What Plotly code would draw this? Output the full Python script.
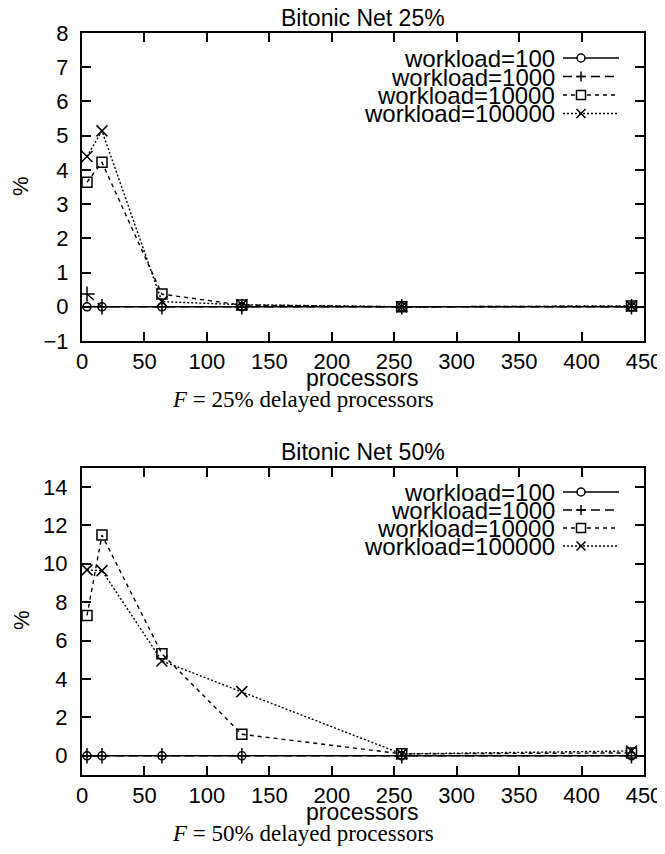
import plotly.graph_objects as go

# ---------------- data ----------------
processors = [4, 16, 64, 128, 256, 440]
series_names = ["workload=100", "workload=1000", "workload=10000", "workload=100000"]

# F = 25% delayed processors
w100_25 = [0, 0, 0, 0, 0, 0]
w1000_25 = [0.37, 0, 0, 0, 0, 0]
w10000_25 = [3.64, 4.22, 0.37, 0.05, 0.0, 0.02]
w100000_25 = [4.39, 5.14, 0.15, 0.06, 0.0, 0.02]

# F = 50% delayed processors
w100_50 = [0, 0, 0, 0, 0, 0]
w1000_50 = [0, 0, 0, 0, 0, 0]
w10000_50 = [7.31, 11.49, 5.31, 1.12, 0.1, 0.15]
w100000_50 = [9.68, 9.64, 4.94, 3.34, 0.1, 0.25]

x_ticks = [0, 50, 100, 150, 200, 250, 300, 350, 400, 450]
y_ticks_25 = [-1, 0, 1, 2, 3, 4, 5, 6, 7, 8]
y_ticks_50 = [0, 2, 4, 6, 8, 10, 12, 14]

titles = ["Bitonic Net 25%", "Bitonic Net 50%"]
captions = ["<i>F</i> = 25% delayed processors", "<i>F</i> = 50% delayed processors"]

# ---------------- styling ----------------
OFF = 8                 # page body margin
W, H = 665 - OFF, 854 - 2 * OFF
SANS = "Liberation Sans"
SERIF = "Liberation Serif"
styles = [
    dict(dash="solid", symbol="circle-open", size=8),
    dict(dash="9px,5px", symbol="cross-thin-open", size=11),
    dict(dash="4px,4px", symbol="square-open", size=10),
    dict(dash="2px,2px", symbol="x-thin-open", size=11),
]


def px(x):
    return (x - OFF) / W


def py(y):
    return 1 - (y - OFF) / H


fig = go.Figure()

panels = [
    dict(xa="x", ya="y", data=[w100_25, w1000_25, w10000_25, w100000_25]),
    dict(xa="x2", ya="y2", data=[w100_50, w1000_50, w10000_50, w100000_50]),
]
for p in panels:
    for name, vals, st in zip(series_names, p["data"], styles):
        fig.add_trace(go.Scatter(
            x=processors, y=vals, name=name, mode="lines+markers",
            xaxis=p["xa"], yaxis=p["ya"], showlegend=False,
            line=dict(color="black", width=1.4, dash=st["dash"]),
            marker=dict(symbol=st["symbol"], size=st["size"], color="black",
                        line=dict(color="black", width=1.5)),
        ))

# hand-drawn gnuplot-style key (text left, sample right)
shapes = []
legend_rows = [[58, 76.5, 95, 113.5], [492, 510, 528, 546]]
sx0, sxm, sx1 = 563, 581, 619
for rows in legend_rows:
    for i, (name, yy, st) in enumerate(zip(series_names, rows, styles)):
        line = dict(color="black", width=1.4, dash=st["dash"])
        shapes.append(dict(type="line", xref="paper", yref="paper",
                           x0=px(sx0), x1=px(sx1), y0=py(yy), y1=py(yy), line=line))
        mline = dict(color="black", width=1.5)
        if i == 0:
            r = 4
            shapes.append(dict(type="circle", xref="paper", yref="paper",
                               x0=px(sxm - r), x1=px(sxm + r), y0=py(yy - r), y1=py(yy + r),
                               line=mline, fillcolor="white"))
        elif i == 1:
            r = 5
            path = (f"M {px(sxm - r)} {py(yy)} L {px(sxm + r)} {py(yy)} "
                    f"M {px(sxm)} {py(yy - r)} L {px(sxm)} {py(yy + r)}")
            shapes.append(dict(type="path", xref="paper", yref="paper", path=path, line=mline))
        elif i == 2:
            r = 4.5
            shapes.append(dict(type="rect", xref="paper", yref="paper",
                               x0=px(sxm - r), x1=px(sxm + r), y0=py(yy - r), y1=py(yy + r),
                               line=mline, fillcolor="white"))
        else:
            r = 4.5
            path = (f"M {px(sxm - r)} {py(yy - r)} L {px(sxm + r)} {py(yy + r)} "
                    f"M {px(sxm - r)} {py(yy + r)} L {px(sxm + r)} {py(yy - r)}")
            shapes.append(dict(type="path", xref="paper", yref="paper", path=path, line=mline))
        fig.add_annotation(x=px(557), y=py(yy), xref="paper", yref="paper", text=name,
                           showarrow=False, xanchor="right", yanchor="middle", height=20,
                           font=dict(family=SANS, size=24, color="black"))

offsets = [0, 434]
for off, t, c in zip(offsets, titles, captions):
    fig.add_annotation(x=px(363), y=py(18 + off), xref="paper", yref="paper", text=t,
                       showarrow=False, xanchor="center", yanchor="middle",
                       font=dict(family=SANS, size=23, color="black"))
    fig.add_annotation(x=px(362), y=py(378 + off), xref="paper", yref="paper",
                       text="processors", showarrow=False, xanchor="center", yanchor="middle",
                       font=dict(family=SANS, size=23, color="black"))
    fig.add_annotation(x=px(170), y=py(399 + off), xref="paper", yref="paper", text=c,
                       showarrow=False, xanchor="left", yanchor="middle",
                       font=dict(family=SERIF, size=23, color="black"))
    fig.add_annotation(x=px(21), y=py(186 + off), xref="paper", yref="paper", text="%",
                       showarrow=False, textangle=-90, xanchor="center", yanchor="middle",
                       font=dict(family=SANS, size=22, color="black"))

axis_common = dict(
    showgrid=False, zeroline=False, showline=True, linecolor="black", linewidth=2,
    mirror="allticks", ticks="inside", ticklen=9, tickwidth=2, tickcolor="black",
    tickfont=dict(family=SANS, size=22, color="black"), automargin=False,
)

x_dom = [px(82), px(644)]
fig.update_layout(
    width=W, height=H, margin=dict(l=0, r=0, t=0, b=0, pad=0, autoexpand=False),
    paper_bgcolor="white", plot_bgcolor="white", shapes=shapes,
    xaxis=dict(domain=x_dom, range=[0, 450], tickvals=x_ticks, anchor="y",
               ticklabelstandoff=0, **axis_common),
    yaxis=dict(domain=[py(341), py(33)], range=[-1, 8], tickvals=y_ticks_25,
               anchor="x", ticklabelstandoff=7, **axis_common),
    xaxis2=dict(domain=x_dom, range=[0, 450], tickvals=x_ticks, anchor="y2",
                ticklabelstandoff=0, **axis_common),
    yaxis2=dict(domain=[py(775), py(467.7)], range=[-1, 15], tickvals=y_ticks_50,
                anchor="x2", ticklabelstandoff=8, **axis_common),
)

fig.write_html("out.html")
